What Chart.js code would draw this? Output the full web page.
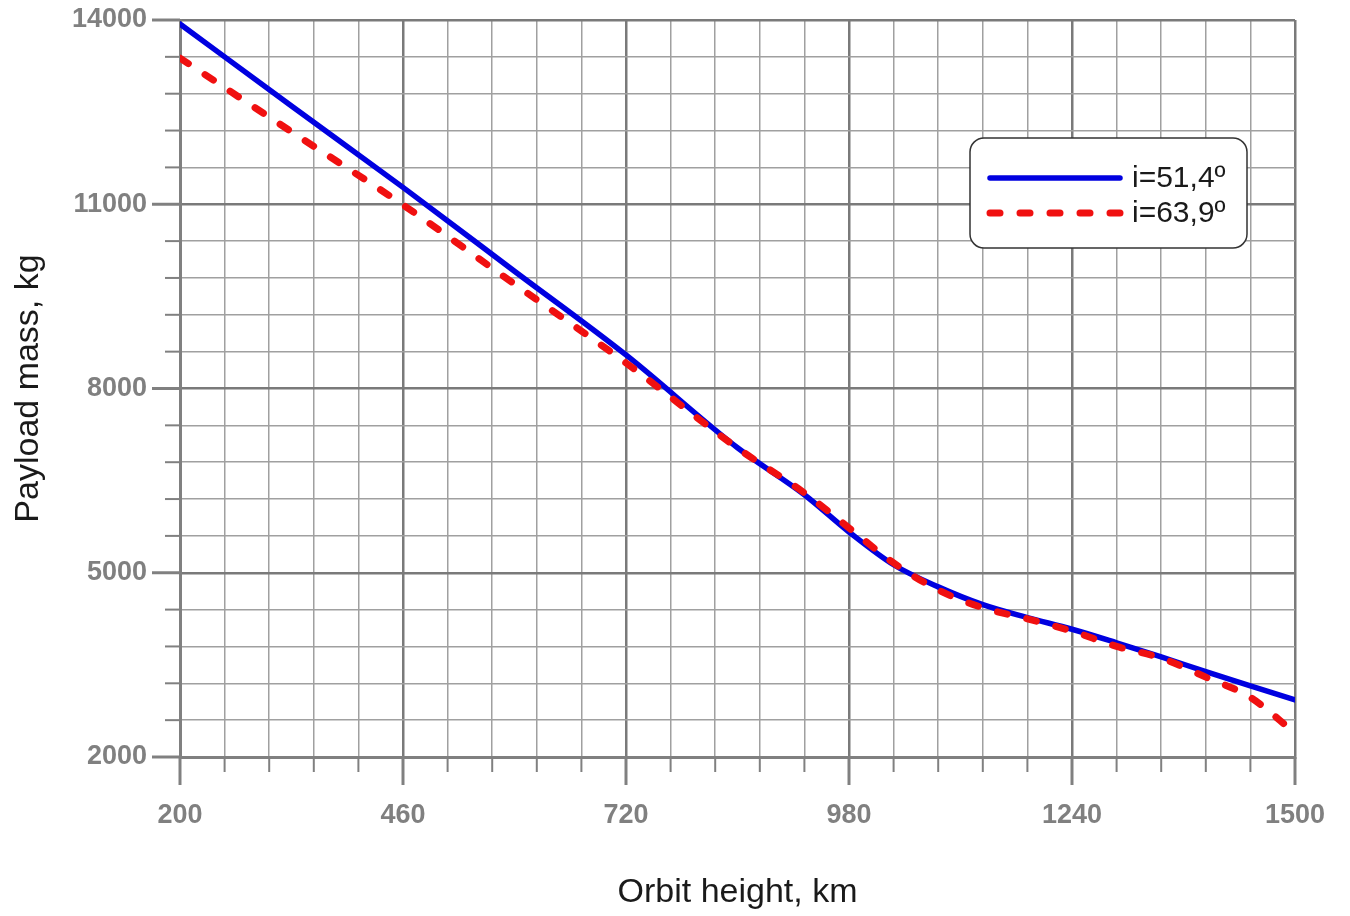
<!DOCTYPE html>
<html>
<head>
<meta charset="utf-8">
<script src="https://cdn.jsdelivr.net/npm/chart.js@4/dist/chart.umd.min.js"></script>
<style>
  html, body { margin: 0; padding: 0; background: #fff; }
  #wrap { width: 1350px; height: 916px; }
</style>
</head>
<body>
<div id="wrap"><canvas id="payloadChart" width="1350" height="916"></canvas></div>
<script>
// orbit height, km
const heights = [200, 330, 460, 590, 720, 850, 928, 980, 1032, 1084, 1136, 1188, 1240, 1292, 1344, 1396, 1448, 1500];
// payload mass, kg
const mass514 = [13935, 12600, 11275, 9910, 8546, 7035, 6270, 5664, 5130, 4770, 4480, 4270, 4080, 3860, 3630, 3390, 3160, 2930];
const mass639 = [13380, 12180, 10990, 9700, 8416, 7030, 6300, 5730, 5160, 4720, 4430, 4250, 4050, 3800, 3610, 3300, 2970, 2390];

const seriesLabels = ['i=51,4º', 'i=63,9º'];
const xMajor = [200, 460, 720, 980, 1240, 1500];
const yMajor = [2000, 5000, 8000, 11000, 14000];
const minorSteps = 5;

const FONT = "'Liberation Sans', Arial, sans-serif";
const tickGrey = '#808080';

function withMinor(major) {
  const out = [];
  for (let i = 0; i < major.length - 1; i++) {
    const step = (major[i + 1] - major[i]) / minorSteps;
    for (let k = 0; k < minorSteps; k++) out.push(major[i] + k * step);
  }
  out.push(major[major.length - 1]);
  return out;
}

const isMajor = (list, v) => list.some(m => Math.abs(m - v) < 1e-6);

// keep the plot box where the layout padding puts it
function noScalePadding(s) {
  s.paddingTop = 0;
  s.paddingBottom = 0;
  s.paddingLeft = 0;
  s.paddingRight = 0;
}

// tick marks outside the plot + legend box
const decorPlugin = {
  id: 'decor',
  afterDraw(chart) {
    const ctx = chart.ctx;
    const area = chart.chartArea;
    const xs = chart.scales.x, ys = chart.scales.y;
    ctx.save();
    ctx.strokeStyle = tickGrey;

    xs.ticks.forEach(t => {
      const major = isMajor(xMajor, t.value);
      const px = xs.getPixelForValue(t.value);
      ctx.lineWidth = major ? 3 : 2;
      ctx.beginPath();
      ctx.moveTo(px, area.bottom);
      ctx.lineTo(px, area.bottom + (major ? 28 : 15));
      ctx.stroke();
    });
    ys.ticks.forEach(t => {
      const major = isMajor(yMajor, t.value);
      const py = ys.getPixelForValue(t.value);
      ctx.lineWidth = major ? 3 : 2;
      ctx.beginPath();
      ctx.moveTo(area.left, py);
      ctx.lineTo(area.left - (major ? 28 : 15), py);
      ctx.stroke();
    });

    // legend
    const bx = 970, by = 138, bw = 277, bh = 110;
    ctx.fillStyle = '#fff';
    ctx.strokeStyle = '#333';
    ctx.lineWidth = 1.5;
    ctx.setLineDash([]);
    ctx.beginPath();
    ctx.roundRect(bx, by, bw, bh, 14);
    ctx.fill();
    ctx.stroke();

    chart.data.datasets.forEach((ds, i) => {
      const ly = by + 40 + i * 35;
      ctx.strokeStyle = ds.borderColor;
      ctx.lineWidth = ds.borderWidth;
      ctx.lineCap = 'round';
      ctx.setLineDash(ds.borderDash || []);
      ctx.beginPath();
      ctx.moveTo(bx + 20, ly);
      ctx.lineTo(bx + 150, ly);
      ctx.stroke();
      ctx.setLineDash([]);
      ctx.fillStyle = '#1a1a1a';
      ctx.font = '30px ' + FONT;
      ctx.textBaseline = 'middle';
      ctx.fillText(ds.label, bx + 162, ly + 1);
    });
    ctx.restore();
  }
};

new Chart(document.getElementById('payloadChart'), {
  type: 'line',
  data: {
    datasets: [
      {
        label: seriesLabels[0],
        data: heights.map((h, i) => ({ x: h, y: mass514[i] })),
        borderColor: '#0000e0',
        borderWidth: 5.5,
        borderCapStyle: 'round',
        pointRadius: 0,
        cubicInterpolationMode: 'monotone',
        order: 1
      },
      {
        label: seriesLabels[1],
        data: heights.map((h, i) => ({ x: h, y: mass639[i] })),
        borderColor: '#f01010',
        borderWidth: 7,
        borderDash: [10, 20],
        borderCapStyle: 'round',
        pointRadius: 0,
        cubicInterpolationMode: 'monotone',
        order: 0
      }
    ]
  },
  options: {
    responsive: false,
    animation: false,
    layout: { padding: { top: 20, right: 55, left: 0, bottom: 0 } },
    plugins: {
      legend: { display: false },
      tooltip: { enabled: false }
    },
    scales: {
      x: {
        type: 'linear',
        min: xMajor[0],
        max: xMajor[xMajor.length - 1],
        afterBuildTicks: s => { s.ticks = withMinor(xMajor).map(v => ({ value: v })); },
        afterFit: s => { s.height = 159; noScalePadding(s); },
        grid: {
          drawTicks: false,
          color: c => isMajor(xMajor, c.tick.value) ? '#7a7a7a' : '#a0a0a0',
          lineWidth: c => isMajor(xMajor, c.tick.value) ? 2.5 : 1.5
        },
        border: { color: tickGrey, width: 3 },
        ticks: {
          autoSkip: false,
          maxRotation: 0,
          padding: 42,
          color: tickGrey,
          font: { family: FONT, size: 27, weight: 'bold' },
          callback: v => isMajor(xMajor, v) ? String(v) : ''
        },
        title: {
          display: true,
          text: 'Orbit height, km',
          color: '#1a1a1a',
          font: { family: FONT, size: 34, lineHeight: 1.2 },
          padding: { top: 0, bottom: 3 }
        }
      },
      y: {
        type: 'linear',
        min: yMajor[0],
        max: yMajor[yMajor.length - 1],
        afterBuildTicks: s => { s.ticks = withMinor(yMajor).map(v => ({ value: v })); },
        afterFit: s => { s.width = 180; noScalePadding(s); },
        grid: {
          drawTicks: false,
          color: c => isMajor(yMajor, c.tick.value) ? '#7a7a7a' : '#a0a0a0',
          lineWidth: c => isMajor(yMajor, c.tick.value) ? 2.5 : 1.5
        },
        border: { color: tickGrey, width: 3 },
        ticks: {
          autoSkip: false,
          padding: 33,
          color: tickGrey,
          font: { family: FONT, size: 27, weight: 'bold' },
          callback: v => isMajor(yMajor, v) ? String(v) : ''
        },
        title: {
          display: true,
          text: 'Payload mass, kg',
          color: '#1a1a1a',
          font: { family: FONT, size: 34, lineHeight: 1.2 },
          padding: { top: 8, bottom: 0 }
        }
      }
    }
  },
  plugins: [decorPlugin]
});
</script>
</body>
</html>
